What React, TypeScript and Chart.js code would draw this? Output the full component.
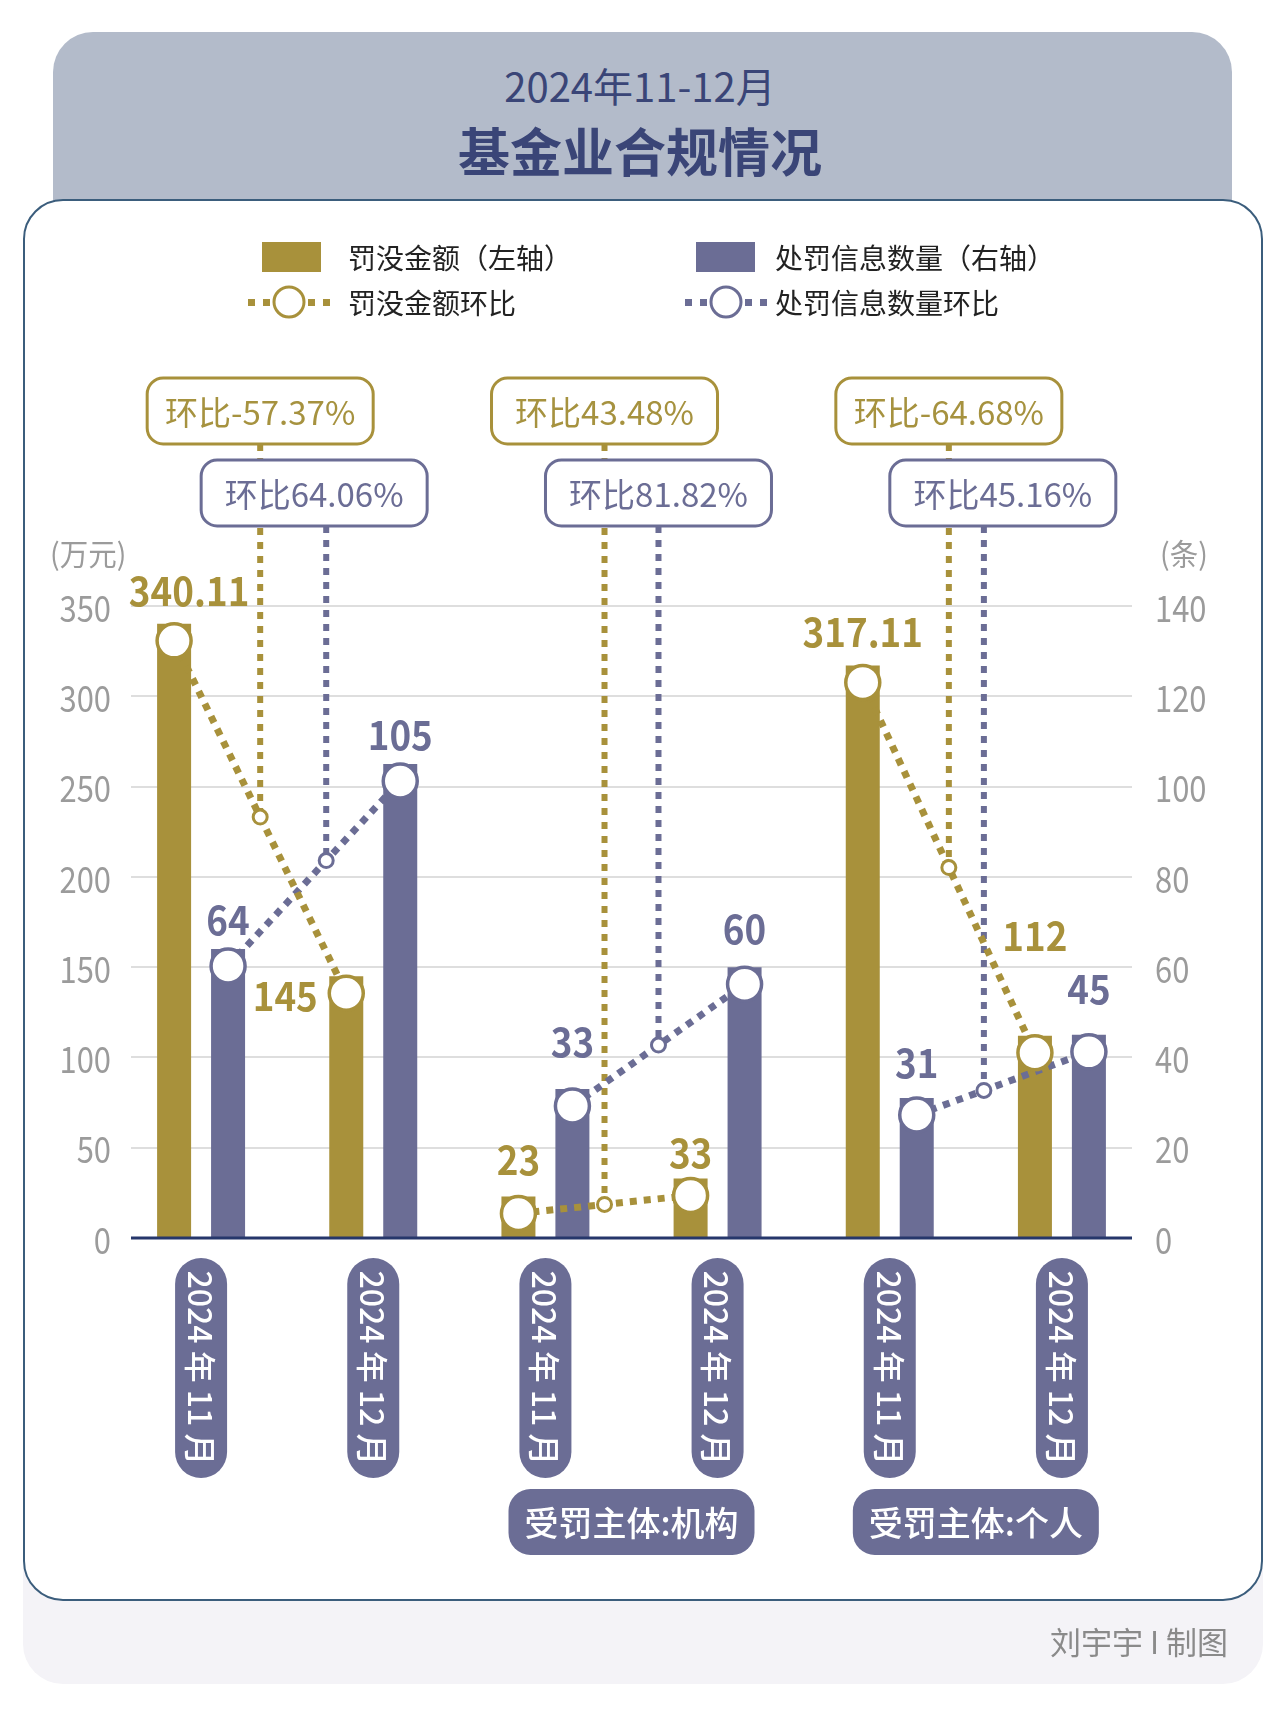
import { useEffect, useRef } from 'react';
import { Chart, registerables } from 'chart.js';

Chart.register(...registerables);

// ---- data ----
const periods = ['2024年11月', '2024年12月', '2024年11月', '2024年12月', '2024年11月', '2024年12月'];
const periodLabels = ['2024 年 11 月', '2024 年 12 月', '2024 年 11 月', '2024 年 12 月', '2024 年 11 月', '2024 年 12 月'];
const fineAmount = [340.11, 145, 23, 33, 317.11, 112]; // 万元, left axis
const penaltyCount = [64, 105, 33, 60, 31, 45]; // 条, right axis
const fineText = ['340.11', '145', '23', '33', '317.11', '112'];
const countText = ['64', '105', '33', '60', '31', '45'];
const fineChange = ['环比-57.37%', '环比43.48%', '环比-64.68%'];
const countChange = ['环比64.06%', '环比81.82%', '环比45.16%'];
const subjectGroups = ['', '受罚主体:机构', '受罚主体:个人'];
const leftTicks = [0, 50, 100, 150, 200, 250, 300, 350];
const rightTicks = [0, 20, 40, 60, 80, 100, 120, 140];

// ---- style ----
const GOLD = '#a8913b';
const GOLD_TEXT = '#a6923f';
const PURPLE = '#6b6d95';
const NAVY = '#3a4577';
const FONT = '"Noto Sans CJK SC", "Noto Sans", sans-serif';
const CAT_PCT = 0.627;
const BAR_PCT = 0.63;
const BIG_R = 17;
const SMALL_R = 7;
const GRID_INSET = 16;
// where the small purple marker sits along each month-to-month segment
const purpleMarkerT = [0.57, 0.5, 0.39];
// label nudges (px) relative to the top centre of each bar
const fineLabelOffset = [[15, -18], [-61, 35], [0, -21], [0, -10], [0, -18], [0, -85]];
const countLabelOffset = [[0, -14], [0, -14], [0, -32], [0, -23], [0, -20], [0, -31]];
const LINE_TO_BAR: Record<number, number> = { 0: 2, 1: 3 };

const drawText = (
  ctx: CanvasRenderingContext2D,
  text: string,
  x: number,
  y: number,
  font: string,
  color: string,
  align: CanvasTextAlign,
  baseline: CanvasTextBaseline,
  sx = 1
) => {
  ctx.save();
  ctx.font = font;
  ctx.fillStyle = color;
  ctx.textAlign = align;
  ctx.textBaseline = baseline;
  ctx.translate(x, y);
  ctx.scale(sx, 1);
  ctx.fillText(text, 0, 0);
  ctx.restore();
};

const barOffset = (chart: any, barIndex: number) => {
  const el = chart.getDatasetMeta(barIndex).data[0];
  return el.x - chart.scales.x.getPixelForValue(0);
};

// small marker on a line segment between months of one group
const markerAt = (chart: any, lineIndex: number, g: number, t: number) => {
  const pts = chart.getDatasetMeta(lineIndex).data;
  const a = pts[g * 2];
  const b = pts[g * 2 + 1];
  const dx = barOffset(chart, LINE_TO_BAR[lineIndex]);
  return {
    x: a.x + t * (b.x - a.x) + dx,
    y: a.y + t * (b.y - a.y) + BIG_R,
    cx: (a.x + b.x) / 2 + dx,
  };
};

const shiftPlugin = {
  id: 'markerShift',
  beforeDatasetDraw(chart: any, args: any) {
    const bar = LINE_TO_BAR[args.index];
    if (bar === undefined) return;
    chart.ctx.save();
    chart.ctx.translate(barOffset(chart, bar), BIG_R);
  },
  afterDatasetDraw(chart: any, args: any) {
    if (LINE_TO_BAR[args.index] !== undefined) chart.ctx.restore();
  },
};

const GOLD_BOX_TOP = 378;
const PURPLE_BOX_TOP = 460;
const BOX_W = 226;
const BOX_H = 66;

const decorPlugin = {
  id: 'decor',
  beforeDatasetsDraw(chart: any) {
    const { ctx, chartArea, scales } = chart;
    const yL = scales.y;
    const yR = scales.y1;
    const gx0 = chartArea.left + GRID_INSET;
    const gx1 = chartArea.right - GRID_INSET;
    ctx.save();
    ctx.strokeStyle = '#dedede';
    ctx.lineWidth = 2;
    leftTicks.forEach((v) => {
      if (v === 0) return;
      const y = Math.round(yL.getPixelForValue(v));
      ctx.beginPath();
      ctx.moveTo(gx0, y);
      ctx.lineTo(gx1, y);
      ctx.stroke();
    });
    const tickFont = `36px ${FONT}`;
    leftTicks.forEach((v) =>
      drawText(ctx, String(v), chartArea.left - 4, yL.getPixelForValue(v) + 2, tickFont, '#9b9b9b', 'right', 'middle', 0.86)
    );
    rightTicks.forEach((v) =>
      drawText(ctx, String(v), chartArea.right + 7, yR.getPixelForValue(v) + 2, tickFont, '#9b9b9b', 'left', 'middle', 0.86)
    );
    const unitY = yL.getPixelForValue(350) - 52;
    drawText(ctx, '(万元)', 50, unitY, `30px ${FONT}`, '#9b9b9b', 'left', 'middle', 0.95);
    drawText(ctx, '(条)', chartArea.right + 12, unitY, `30px ${FONT}`, '#9b9b9b', 'left', 'middle', 0.95);

    // dotted connectors from the 环比 boxes down to the small markers
    ctx.lineWidth = 6;
    ctx.setLineDash([7, 7]);
    for (let g = 0; g < fineChange.length; g++) {
      const mg = markerAt(chart, 0, g, 0.5);
      ctx.strokeStyle = GOLD;
      ctx.beginPath();
      ctx.moveTo(mg.x, GOLD_BOX_TOP + BOX_H);
      ctx.lineTo(mg.x, mg.y - SMALL_R);
      ctx.stroke();
      const mp = markerAt(chart, 1, g, purpleMarkerT[g]);
      ctx.strokeStyle = PURPLE;
      ctx.beginPath();
      ctx.moveTo(mp.x, PURPLE_BOX_TOP + BOX_H);
      ctx.lineTo(mp.x, mp.y - SMALL_R);
      ctx.stroke();
    }
    ctx.restore();
  },
  afterDatasetsDraw(chart: any) {
    const { ctx, chartArea, scales } = chart;
    ctx.save();

    // small markers
    for (let g = 0; g < fineChange.length; g++) {
      const marks = [
        { m: markerAt(chart, 0, g, 0.5), c: GOLD },
        { m: markerAt(chart, 1, g, purpleMarkerT[g]), c: PURPLE },
      ];
      marks.forEach(({ m, c }) => {
        ctx.beginPath();
        ctx.arc(m.x, m.y, SMALL_R, 0, Math.PI * 2);
        ctx.fillStyle = '#fff';
        ctx.fill();
        ctx.lineWidth = 3;
        ctx.strokeStyle = c;
        ctx.stroke();
      });
    }

    // baseline
    const y0 = scales.y.getPixelForValue(0);
    ctx.strokeStyle = '#26376b';
    ctx.lineWidth = 3;
    ctx.beginPath();
    ctx.moveTo(chartArea.left + GRID_INSET, y0);
    ctx.lineTo(chartArea.right - GRID_INSET, y0);
    ctx.stroke();

    // 环比 boxes
    const box = (cx: number, top: number, color: string, textColor: string, text: string) => {
      ctx.beginPath();
      ctx.roundRect(cx - BOX_W / 2, top, BOX_W, BOX_H, 16);
      ctx.fillStyle = '#fff';
      ctx.fill();
      ctx.lineWidth = 3;
      ctx.strokeStyle = color;
      ctx.stroke();
      drawText(ctx, text, cx, top + BOX_H / 2 + 1, `33px ${FONT}`, textColor, 'center', 'middle');
    };
    for (let g = 0; g < fineChange.length; g++) {
      box(markerAt(chart, 0, g, 0.5).cx, GOLD_BOX_TOP, GOLD, GOLD_TEXT, fineChange[g]);
      box(markerAt(chart, 1, g, 0.5).cx, PURPLE_BOX_TOP, PURPLE, PURPLE, countChange[g]);
    }

    // value labels
    const valFont = `bold 40px ${FONT}`;
    chart.getDatasetMeta(2).data.forEach((el: any, i: number) => {
      const [dx, dy] = fineLabelOffset[i];
      drawText(ctx, fineText[i], el.x + dx, el.y + dy, valFont, GOLD, 'center', 'alphabetic', 0.92);
    });
    chart.getDatasetMeta(3).data.forEach((el: any, i: number) => {
      const [dx, dy] = countLabelOffset[i];
      drawText(ctx, countText[i], el.x + dx, el.y + dy, valFont, PURPLE, 'center', 'alphabetic', 0.92);
    });

    // vertical period pills
    const pillTop = y0 + 20;
    periodLabels.forEach((lab, i) => {
      const cx = scales.x.getPixelForValue(i);
      ctx.beginPath();
      ctx.roundRect(cx - 26, pillTop, 52, 220, 26);
      ctx.fillStyle = PURPLE;
      ctx.fill();
      ctx.save();
      ctx.translate(cx, pillTop + 110);
      ctx.rotate(Math.PI / 2);
      drawText(ctx, lab, 0, 1, `500 32px ${FONT}`, '#fff', 'center', 'middle');
      ctx.restore();
    });

    // subject group pills
    subjectGroups.forEach((name, g) => {
      if (!name) return;
      const cx = (scales.x.getPixelForValue(g * 2) + scales.x.getPixelForValue(g * 2 + 1)) / 2;
      const top = pillTop + 231;
      ctx.beginPath();
      ctx.roundRect(cx - 123, top, 246, 66, 22);
      ctx.fillStyle = PURPLE;
      ctx.fill();
      drawText(ctx, name, cx, top + 34, `500 34px ${FONT}`, '#fff', 'center', 'middle');
    });

    ctx.restore();
  },
  afterDraw(chart: any) {
    const { ctx } = chart;
    ctx.save();
    const legFont = `28px ${FONT}`;
    // row 1: bars
    ctx.fillStyle = GOLD;
    ctx.fillRect(262, 242, 59, 30);
    drawText(ctx, '罚没金额（左轴）', 348, 258, legFont, '#222', 'left', 'middle');
    ctx.fillStyle = PURPLE;
    ctx.fillRect(696, 242, 59, 30);
    drawText(ctx, '处罚信息数量（右轴）', 775, 258, legFont, '#222', 'left', 'middle');
    // row 2: lines
    const lineKey = (cx: number, color: string) => {
      ctx.fillStyle = color;
      [-41, -26, 19, 34].forEach((o) => ctx.fillRect(cx + o, 299, 7, 7));
      ctx.beginPath();
      ctx.arc(cx, 302, 15, 0, Math.PI * 2);
      ctx.fillStyle = '#fff';
      ctx.fill();
      ctx.lineWidth = 3;
      ctx.strokeStyle = color;
      ctx.stroke();
    };
    lineKey(289, GOLD);
    drawText(ctx, '罚没金额环比', 348, 303, legFont, '#222', 'left', 'middle');
    lineKey(726, PURPLE);
    drawText(ctx, '处罚信息数量环比', 775, 303, legFont, '#222', 'left', 'middle');
    ctx.restore();
  },
};

const segmentColor = (color: string) => (c: any) => (c.p0DataIndex % 2 === 1 ? 'rgba(0,0,0,0)' : color);

export default function App() {
  const canvasRef = useRef<HTMLCanvasElement | null>(null);

  useEffect(() => {
    if (!canvasRef.current) return;
    const chart = new Chart(canvasRef.current, {
      type: 'bar',
      data: {
        labels: periods,
        datasets: [
          {
            type: 'line',
            label: '罚没金额环比',
            data: fineAmount,
            yAxisID: 'y',
            order: 0,
            borderColor: GOLD,
            borderWidth: 7,
            borderDash: [7, 7],
            borderCapStyle: 'butt',
            pointRadius: BIG_R,
            pointBorderWidth: 3.5,
            pointBackgroundColor: '#fff',
            pointBorderColor: GOLD,
            clip: false,
            segment: { borderColor: segmentColor(GOLD) },
          } as any,
          {
            type: 'line',
            label: '处罚信息数量环比',
            data: penaltyCount,
            yAxisID: 'y1',
            order: 0,
            borderColor: PURPLE,
            borderWidth: 7,
            borderDash: [7, 7],
            borderCapStyle: 'butt',
            pointRadius: BIG_R,
            pointBorderWidth: 3.5,
            pointBackgroundColor: '#fff',
            pointBorderColor: PURPLE,
            clip: false,
            segment: { borderColor: segmentColor(PURPLE) },
          } as any,
          {
            type: 'bar',
            label: '罚没金额（左轴）',
            data: fineAmount,
            yAxisID: 'y',
            order: 1,
            backgroundColor: GOLD,
            categoryPercentage: CAT_PCT,
            barPercentage: BAR_PCT,
          },
          {
            type: 'bar',
            label: '处罚信息数量（右轴）',
            data: penaltyCount,
            yAxisID: 'y1',
            order: 1,
            backgroundColor: PURPLE,
            categoryPercentage: CAT_PCT,
            barPercentage: BAR_PCT,
          },
        ],
      },
      options: {
        responsive: false,
        animation: false,
        events: [],
        layout: { padding: { left: 115, right: 132, top: 606, bottom: 481 } },
        plugins: { legend: { display: false }, tooltip: { enabled: false } },
        scales: {
          x: { type: 'category', display: false, offset: true },
          y: { type: 'linear', display: false, min: 0, max: 350 },
          y1: { type: 'linear', display: false, min: 0, max: 140, position: 'right' },
        },
      },
      plugins: [shiftPlugin, decorPlugin],
    });
    return () => chart.destroy();
  }, []);

  return (
    <div
      style={{
        position: 'absolute',
        left: 0,
        top: 0,
        width: 1280,
        height: 1719,
        overflow: 'hidden',
        background: '#fff',
        fontFamily: FONT,
      }}
    >
      <div
        style={{
          position: 'absolute',
          left: 23,
          top: 1540,
          width: 1240,
          height: 144,
          background: '#f4f3f7',
          borderRadius: '0 0 40px 40px',
        }}
      />
      <div
        style={{
          position: 'absolute',
          left: 53,
          top: 32,
          width: 1179,
          height: 200,
          background: '#b3bbca',
          borderRadius: '40px 40px 0 0',
        }}
      />
      <div
        style={{
          position: 'absolute',
          left: 0,
          top: 62,
          width: 1280,
          lineHeight: '46px',
          fontSize: 40,
          color: NAVY,
          textAlign: 'center',
        }}
      >
        2024年11-12月
      </div>
      <div
        style={{
          position: 'absolute',
          left: 0,
          top: 120,
          width: 1280,
          lineHeight: '60px',
          fontSize: 52,
          fontWeight: 'bold',
          color: NAVY,
          textAlign: 'center',
        }}
      >
        基金业合规情况
      </div>
      <div
        style={{
          position: 'absolute',
          left: 23,
          top: 199,
          width: 1240,
          height: 1402,
          boxSizing: 'border-box',
          border: '2px solid #3b5d7c',
          borderRadius: 40,
          background: '#fff',
        }}
      />
      <canvas
        ref={canvasRef}
        width={1280}
        height={1719}
        style={{ position: 'absolute', left: 0, top: 0, width: 1280, height: 1719 }}
      />
      <div
        style={{
          position: 'absolute',
          right: 52,
          top: 1621,
          lineHeight: '40px',
          fontSize: 31,
          color: '#8a8a8a',
        }}
      >
        刘宇宇 I 制图
      </div>
    </div>
  );
}
